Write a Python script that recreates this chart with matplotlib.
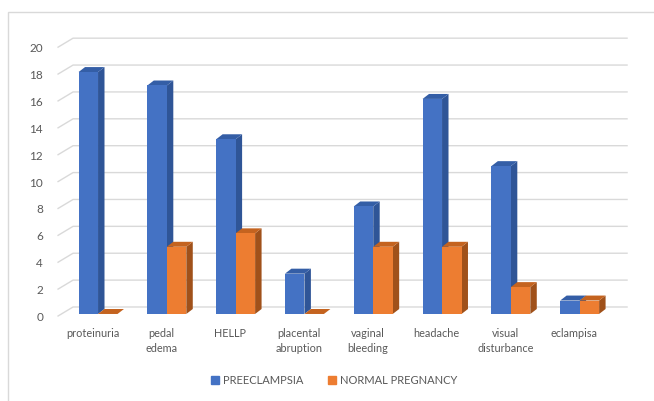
import numpy as np
import matplotlib
matplotlib.use("Agg")
import matplotlib.pyplot as plt
from matplotlib.patches import Rectangle, Patch
import matplotlib.transforms as mtransforms

# symptom counts per group
categories = ["proteinuria", "pedal\nedema", "HELLP", "placental\nabruption",
              "vaginal\nbleeding", "headache", "visual\ndisturbance", "eclampisa"]
preeclampsia = [18, 17, 13, 3, 8, 16, 11, 1]
normal = [0, 5, 6, 0, 5, 5, 2, 1]
yticks = list(range(0, 21, 2))

BLUE = ("#4472C4", "#2F5597", "#345EA6")     # front, side, top
ORANGE = ("#ED7D31", "#A0511A", "#C4631F")
GRID = "#D9D9D9"
TXT = "#595959"

W = 0.283            # bar width (data units)
DX, DY = 0.094, 0.37  # bar depth offset
plt.rcParams["font.family"] = ["Lato", "DejaVu Sans"]

fig = plt.figure(figsize=(6.54, 4.01), dpi=100)
ax = fig.add_axes([0.0710, 0.1835, 0.8942, 0.7374])
ax.set_xlim(-0.75, 7.75)
ax.set_ylim(-1, 21)
for s in ax.spines.values():
    s.set_visible(False)
ax.set_xticks([])

# back wall gridlines with the little floor diagonal on the left
for v in yticks:
    ax.plot([-0.581, -0.363, 7.689], [v - 0.15, v + 0.52, v + 0.52],
            color=GRID, lw=1.0, zorder=1, clip_on=False)

ax.set_yticks(yticks)
ax.set_yticklabels([str(v) for v in yticks])
ax.tick_params(axis="y", length=0, pad=2.4, labelsize=8.5, labelcolor=TXT)
off = mtransforms.ScaledTranslation(0, -2.5 / 100, fig.dpi_scale_trans)
for lab in ax.get_yticklabels():
    lab.set_transform(lab.get_transform() + off)


def bar3d(x0, h, cols, z):
    front, side, top = cols
    ax.fill([x0 + W, x0 + W + DX, x0 + W + DX, x0 + W],
            [0, DY, h + DY, h], color=side, lw=0, zorder=z)
    ax.fill([x0, x0 + DX, x0 + W + DX, x0 + W],
            [h, h + DY, h + DY, h], color=top, lw=0, zorder=z)
    if h > 0:
        ax.bar(x0, h, width=W, align="edge", color=front, lw=0, zorder=z + 0.5)


x = np.arange(len(categories))
for i in x:
    bar3d(i - W, preeclampsia[i], BLUE, 3 + i * 2)
    bar3d(i, normal[i], ORANGE, 4 + i * 2)

for i, lab in enumerate(categories):
    ax.text(i - 0.08, -1.05, lab, ha="center", va="top", fontsize=7.8,
            color=TXT, linespacing=1.4, clip_on=False)

handles = [Patch(color=BLUE[0], label="PREECLAMPSIA"),
           Patch(color=ORANGE[0], label="NORMAL PREGNANCY")]
fig.legend(handles=handles, loc="center", bbox_to_anchor=(0.511, 0.052), ncol=2,
           frameon=False, fontsize=8, labelcolor=TXT, handlelength=0.7,
           handleheight=0.7, handletextpad=0.35, columnspacing=2.2)

# chart frame
fig.add_artist(Rectangle((8 / 654, -0.1), 2, (401 - 12) / 401 + 0.1,
                         transform=fig.transFigure, fill=False,
                         edgecolor=GRID, lw=1))

fig.savefig("out.png", dpi=100)
